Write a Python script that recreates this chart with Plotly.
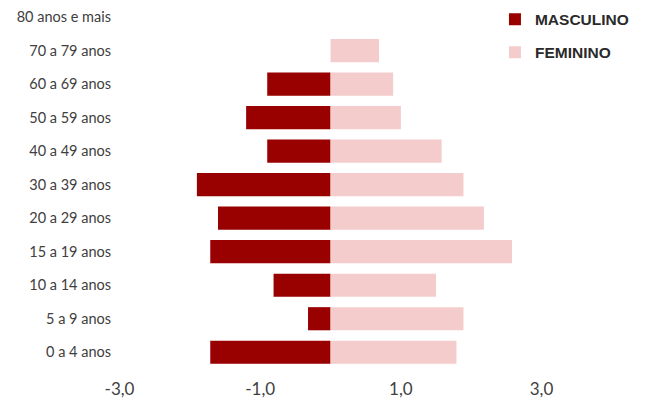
import plotly.graph_objects as go

categories = ["0 a 4 anos", "5 a 9 anos", "10 a 14 anos", "15 a 19 anos", "20 a 29 anos",
              "30 a 39 anos", "40 a 49 anos", "50 a 59 anos", "60 a 69 anos",
              "70 a 79 anos", "80 anos e mais"]
masculino = [-1.71, -0.32, -0.81, -1.71, -1.60, -1.90, -0.90, -1.20, -0.90, 0.0, 0.0]
feminino = [1.79, 1.89, 1.50, 2.58, 2.18, 1.89, 1.58, 1.00, 0.89, 0.69, 0.0]
tick_vals = [-3, -1, 1, 3]
tick_text = ["-3,0", "-1,0", "1,0", "3,0"]

fig = go.Figure()
fig.add_trace(go.Bar(y=categories, x=masculino, orientation="h", name="MASCULINO",
                     marker=dict(color="#990000", line=dict(width=0)), legendgroup="m"))
fig.add_trace(go.Bar(y=categories, x=feminino, orientation="h", name="FEMININO",
                     marker=dict(color="#F4CCCC", line=dict(width=0)), legendgroup="f"))

fig.update_layout(
    width=648, height=395,
    barmode="relative", bargap=0.31,
    separators=",.",
    paper_bgcolor="white", plot_bgcolor="white",
    margin=dict(l=108, r=23, t=0, b=34, autoexpand=False),
    font=dict(family="Lato", size=14, color="#404040"),
    legend=dict(x=0.733, y=1.015, xanchor="left", yanchor="top",
                traceorder="grouped", tracegroupgap=10,
                font=dict(family="Liberation Sans", size=15.5, color="#2a2a2a", weight="bold"),
                bgcolor="rgba(0,0,0,0)"),
    xaxis=dict(range=[-3.05, 4.3], tickvals=tick_vals, ticktext=tick_text,
               showgrid=False, zeroline=False, showline=False, ticks="",
               automargin=False, ticklabelstandoff=8,
               tickfont=dict(family="Lato", size=17, color="#404040")),
    yaxis=dict(categoryorder="array", categoryarray=categories, range=[-0.5, 10.27],
               showgrid=False, zeroline=False, showline=False, ticks="",
               automargin=False, ticklabelstandoff=4,
               tickfont=dict(family="Lato", size=14.5, color="#404040")),
)

fig.write_html("out.html")
